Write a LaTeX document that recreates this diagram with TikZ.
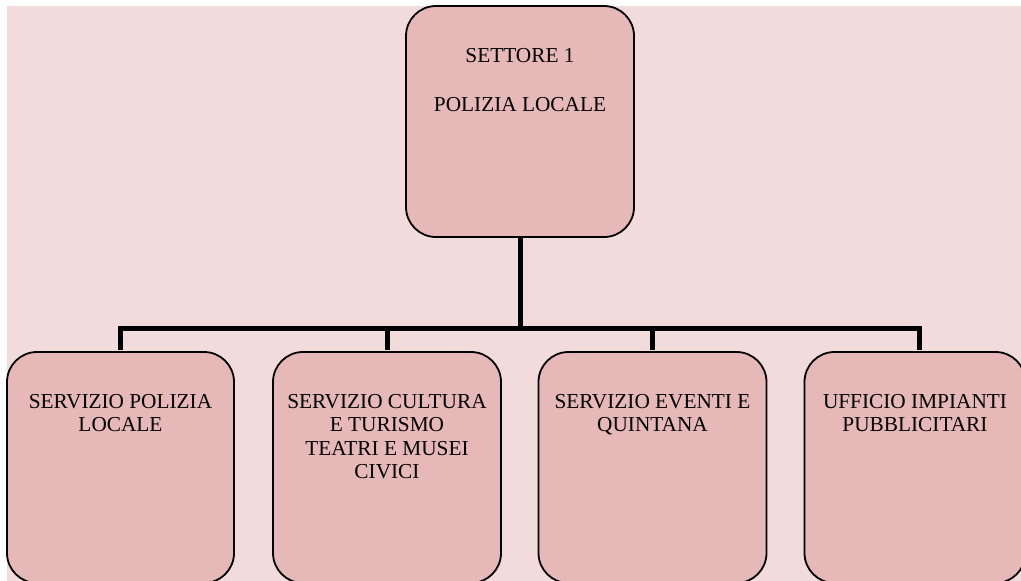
\documentclass[tikz,border=0pt]{standalone}
\usepackage{fontspec}
\setmainfont{Liberation Serif}
\definecolor{bgpink}{HTML}{F2DCDB}
\definecolor{boxpink}{HTML}{E6B8B7}
\begin{document}
\begin{tikzpicture}[x=1pt,y=-1pt,
  orgbox/.style={draw=black,line width=1.8pt,fill=boxpink,rounded corners=30pt,inner sep=0pt},
  lbl/.style={anchor=north,inner sep=0pt,align=center,font=\fontsize{21.3}{23.4}\selectfont},
  conn/.style={line width=5pt,line cap=butt}]
\useasboundingbox (0,0) rectangle (1021,581);
\fill[bgpink] (7,6) rectangle (1021,581);
% boxes
\node[orgbox,minimum width=228pt,minimum height=231pt] (top) at (520,121.5) {};
\node[orgbox,minimum width=227pt,minimum height=231pt] (b1) at (120.5,467.5) {};
\node[orgbox,minimum width=228pt,minimum height=231pt] (b2) at (387,467.5) {};
\node[orgbox,minimum width=228pt,minimum height=231pt] (b3) at (652.5,467.5) {};
\node[orgbox,minimum width=221pt,minimum height=231pt] (b4) at (915,467.5) {};
% labels
\node[lbl] (ttop) at (520,47.9) {SETTORE 1\\[25.6pt]POLIZIA LOCALE};
\node[lbl] (t1) at (120.5,394) {SERVIZIO POLIZIA\\LOCALE};
\node[lbl] (t2) at (387,394) {SERVIZIO CULTURA\\E TURISMO\\TEATRI E MUSEI\\CIVICI};
\node[lbl] (t3) at (652.5,394) {SERVIZIO EVENTI E\\QUINTANA};
\node[lbl] (t4) at (915,394) {UFFICIO IMPIANTI\\PUBBLICITARI};
% connectors
\coordinate (bar) at (520,328.5);
\draw[conn] (top.south) -- (bar);
\draw[conn] ([yshift=0.9pt]b1.north) -- (b1.north |- bar) -- ([xshift=4pt]b4.north |- bar) -- ([xshift=4pt,yshift=0.9pt]b4.north);
\draw[conn] ([yshift=0.9pt]b2.north) -- (b2.north |- bar);
\draw[conn] ([yshift=0.9pt]b3.north) -- (b3.north |- bar);
\end{tikzpicture}
\end{document}
